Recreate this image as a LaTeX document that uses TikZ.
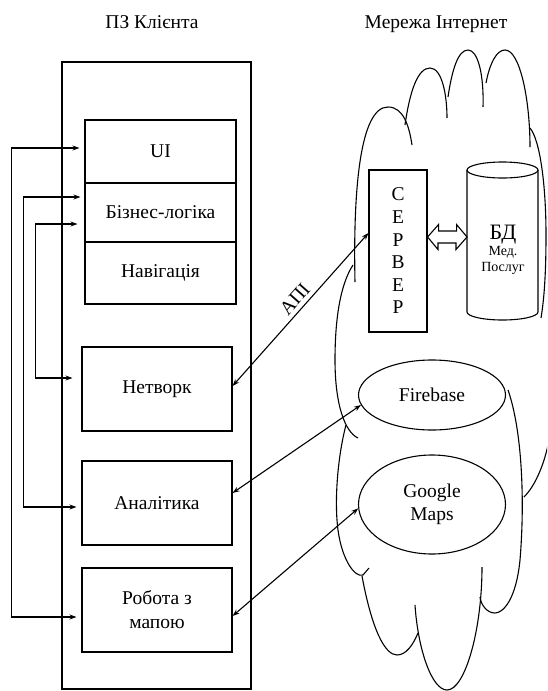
\documentclass[tikz,border=0pt]{standalone}
\usepackage{fontspec}
\setmainfont{Liberation Serif}
\usetikzlibrary{arrows.meta,shapes.geometric}
\begin{document}
\begin{tikzpicture}[x=1pt,y=-1pt,line width=1.1pt,
  txt/.style={font=\fontsize{19.5}{23}\selectfont},
  box/.style={draw, rectangle, inner sep=0pt, align=center, txt},
  ell/.style={draw, ellipse, inner sep=0pt, align=center, txt},
  arr/.style={{Stealth[length=7pt,width=5pt]}-{Stealth[length=7pt,width=5pt]}},
  cloudline/.style={line width=1.1pt}]
\useasboundingbox (0,0) rectangle (547,691);
% titles
\node[txt, anchor=base] (t1) at (152,28) {ПЗ Клієнта};
\node[txt, anchor=base] (t2) at (436,28) {Мережа Інтернет};
% client side
\node[draw, rectangle, inner sep=0pt, minimum width=189, minimum height=627] (client) at (156.5,375.5) {};
\node[box, minimum width=151, minimum height=63] (ui) at (160.5,151.5) {UI};
\node[box, minimum width=151, minimum height=59] (biz) at (160.5,212.5) {Бізнес-логіка};
\node[box, minimum width=151, minimum height=62] (nav) at (160.5,273) {Навігація};
\node[box, minimum width=150, minimum height=84] (net) at (157,389) {Нетворк};
\node[box, minimum width=150, minimum height=84] (anal) at (157,503) {Аналітика};
\node[box, minimum width=150, minimum height=84, font=\fontsize{19.5}{24}\selectfont] (rob) at (157,610) {Робота з\\мапою};
% cloud
\begin{scope}
\clip (0,0) rectangle (547,691);
\draw[cloudline] (355,282) .. controls (353,190) and (360,107) .. (388,107) .. controls (403,107) and (409,125) .. (412,145);
\draw[cloudline] (405,125) .. controls (410,90) and (418,68) .. (430,68) .. controls (442,68) and (447,95) .. (447,118);
\draw[cloudline] (448,97) .. controls (452,70) and (458,50) .. (468,50) .. controls (478,50) and (484,75) .. (483,107);
\draw[cloudline] (486,83) .. controls (490,62) and (497,50) .. (505,50) .. controls (520,50) and (530,100) .. (530,147);
\draw[cloudline] (530,128) .. controls (540,140) and (546,185) .. (546,235) .. controls (546,275) and (544,300) .. (541,318);
\draw[cloudline] (353,265) .. controls (340,285) and (335,320) .. (335,360) .. controls (335,405) and (345,432) .. (358,438);
\draw[cloudline] (346,425) .. controls (338,455) and (334,500) .. (338,530) .. controls (342,560) and (355,578) .. (363,575) -- (369,568);
\draw[cloudline] (362,576) .. controls (372,630) and (385,655) .. (397,655) .. controls (406,655) and (413,645) .. (418,633);
\draw[cloudline] (415,605) .. controls (418,650) and (432,690) .. (447,690) .. controls (465,690) and (482,630) .. (482,567);
\draw[cloudline] (508,390) .. controls (522,430) and (525,500) .. (520,560) .. controls (516,600) and (503,613) .. (495,613) .. controls (487,613) and (481,605) .. (480,597);
\draw[cloudline] (524,497) .. controls (536,485) and (545,462) .. (549,440) .. controls (555,410) and (560,380) .. (560,350);
\end{scope}
% server side
\node[box, minimum width=58, minimum height=162, font=\fontsize{19.5}{22.6}\selectfont] (srv) at (398,251) {С\\Е\\Р\\В\\Е\\Р};
\draw (467,170) -- (467,312) arc[start angle=180, end angle=0, x radius=35.5, y radius=8] -- (538,170);
\draw (502.5,170) ellipse[x radius=35.5, y radius=8];
\coordinate (bdw) at (467,237);
\node[anchor=base, font=\fontsize{22}{24}\selectfont] (bd1) at (503,239) {БД};
\node[anchor=base, font=\fontsize{14}{16}\selectfont] (bd2) at (503,255) {Мед.};
\node[anchor=base, font=\fontsize{14}{16}\selectfont] (bd3) at (503,271) {Послуг};
\draw[line width=1.1pt] ([yshift=14pt]srv.east) -- ++(11,-12.5) -- ++(0,6.5) -- ++(18,0) -- ++(0,-6.5) -- (bdw) -- ++(-11,12.5) -- ++(0,-6.5) -- ++(-18,0) -- ++(0,6.5) -- cycle;
\node[ell, minimum width=147, minimum height=70] (fb) at (432,395) {Firebase};
\node[ell, minimum width=147, minimum height=99] (gm) at (432,504.5) {Google\\Maps};
% connectors right
\draw[arr] ([yshift=3pt]net.east) -- node[sloped, above=1pt, pos=0.52, txt] (api) {АПІ} ([yshift=18pt]srv.west);
\draw[arr] ([yshift=10pt]anal.east) -- (fb.188);
\draw[arr] ([yshift=-6pt]rob.east) -- (gm.183);
% connectors left
\draw[arr, shorten <=5pt, shorten >=5pt] ([yshift=3.5pt]ui.west) -- ++(-73,0) |- ([yshift=-7pt]rob.west);
\draw[arr, shorten <=4pt, shorten >=5pt] ([yshift=15.5pt]biz.west) -- ++(-61,0) |- ([yshift=-4pt]anal.west);
\draw[arr, shorten <=7pt, shorten >=9pt] ([yshift=-11.5pt]biz.west) -- ++(-49,0) |- ([yshift=11pt]net.west);
\end{tikzpicture}
\end{document}
